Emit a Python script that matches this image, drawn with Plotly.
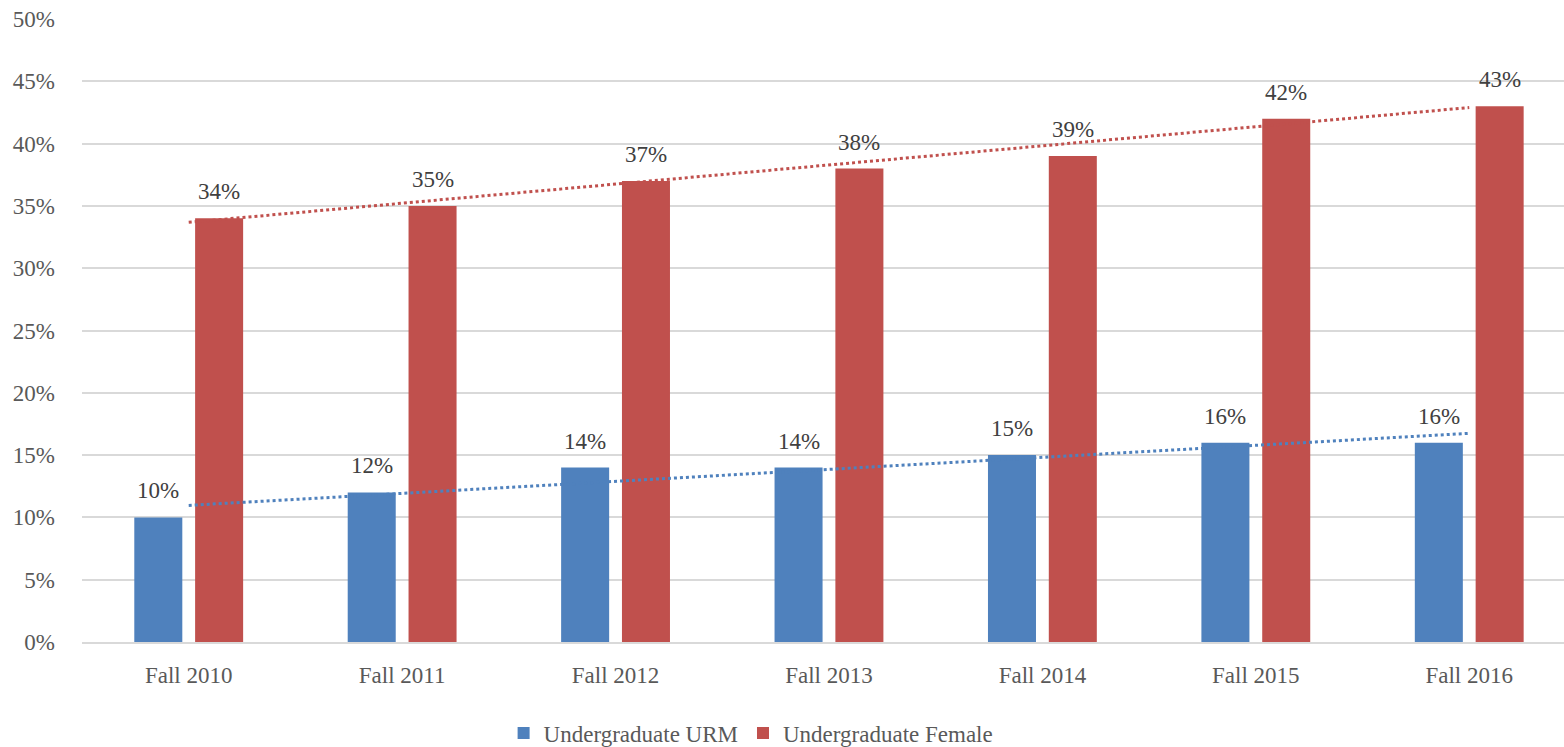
import plotly.graph_objects as go
import numpy as np

categories = ["Fall 2010", "Fall 2011", "Fall 2012", "Fall 2013", "Fall 2014", "Fall 2015", "Fall 2016"]
urm = [10, 12, 14, 14, 15, 16, 16]
female = [34, 35, 37, 38, 39, 42, 43]
y_ticks = [0, 5, 10, 15, 20, 25, 30, 35, 40, 45, 50]

BLUE = "#4F81BD"
RED = "#C0504D"
FONT = "Liberation Serif, serif"

xi = np.arange(len(categories))
BW = 0.225
OFF_B = -0.255
OFF_R = 0.030

def trend(vals):
    m, b = np.polyfit(xi, vals, 1)
    return m * xi + b

fig = go.Figure()
fig.add_trace(go.Bar(x=xi, y=urm, name="Undergraduate URM", width=BW, offset=OFF_B,
                     marker=dict(color=BLUE, line=dict(width=0))))
fig.add_trace(go.Bar(x=xi, y=female, name="Undergraduate Female", width=BW, offset=OFF_R,
                     marker=dict(color=RED, line=dict(width=0))))
fig.add_trace(go.Scatter(x=xi, y=trend(urm), mode="lines", line=dict(color=BLUE, width=3, dash="dot"),
                         showlegend=False, hoverinfo="skip"))
fig.add_trace(go.Scatter(x=xi, y=trend(female), mode="lines", line=dict(color=RED, width=3, dash="dot"),
                         showlegend=False, hoverinfo="skip"))

for vals, off in ((urm, OFF_B), (female, OFF_R)):
    for i, v in enumerate(vals):
        fig.add_annotation(x=i + off + BW / 2, y=v, text=f"{v}%", showarrow=False,
                           yanchor="bottom", yshift=12,
                           font=dict(family=FONT, size=23, color="#404040"))

fig.update_layout(
    width=1564, height=747,
    margin=dict(l=82, r=0, t=19, b=105, autoexpand=False),
    paper_bgcolor="white", plot_bgcolor="white",
    barmode="overlay",
    font=dict(family=FONT, size=23, color="#595959"),
    showlegend=True,
    legend=dict(orientation="h", xref="container", yref="container",
                x=0.322, xanchor="left", y=1 - 733 / 747, yanchor="middle",
                font=dict(family=FONT, size=23, color="#595959"), itemwidth=30,
                traceorder="normal"),
    xaxis=dict(range=[-0.5, 6.444], tickmode="array", tickvals=list(xi), ticktext=categories,
               showgrid=False, zeroline=False, showline=True, linecolor="#D9D9D9", linewidth=1.5,
               ticks="", ticklabelstandoff=12, automargin=False,
               tickfont=dict(family=FONT, size=23, color="#595959")),
    yaxis=dict(range=[0, 50], tickmode="array", tickvals=y_ticks, ticktext=[f"{t}%" for t in y_ticks],
               showgrid=True, gridcolor="#D9D9D9", gridwidth=1.5, zeroline=False, showline=False,
               ticks="", ticklabelstandoff=26, automargin=False,
               tickfont=dict(family=FONT, size=23, color="#595959")),
)

fig.write_html("out.html", config={"displayModeBar": False},
               post_script="document.body.style.margin='0';document.body.style.overflow='hidden';")
